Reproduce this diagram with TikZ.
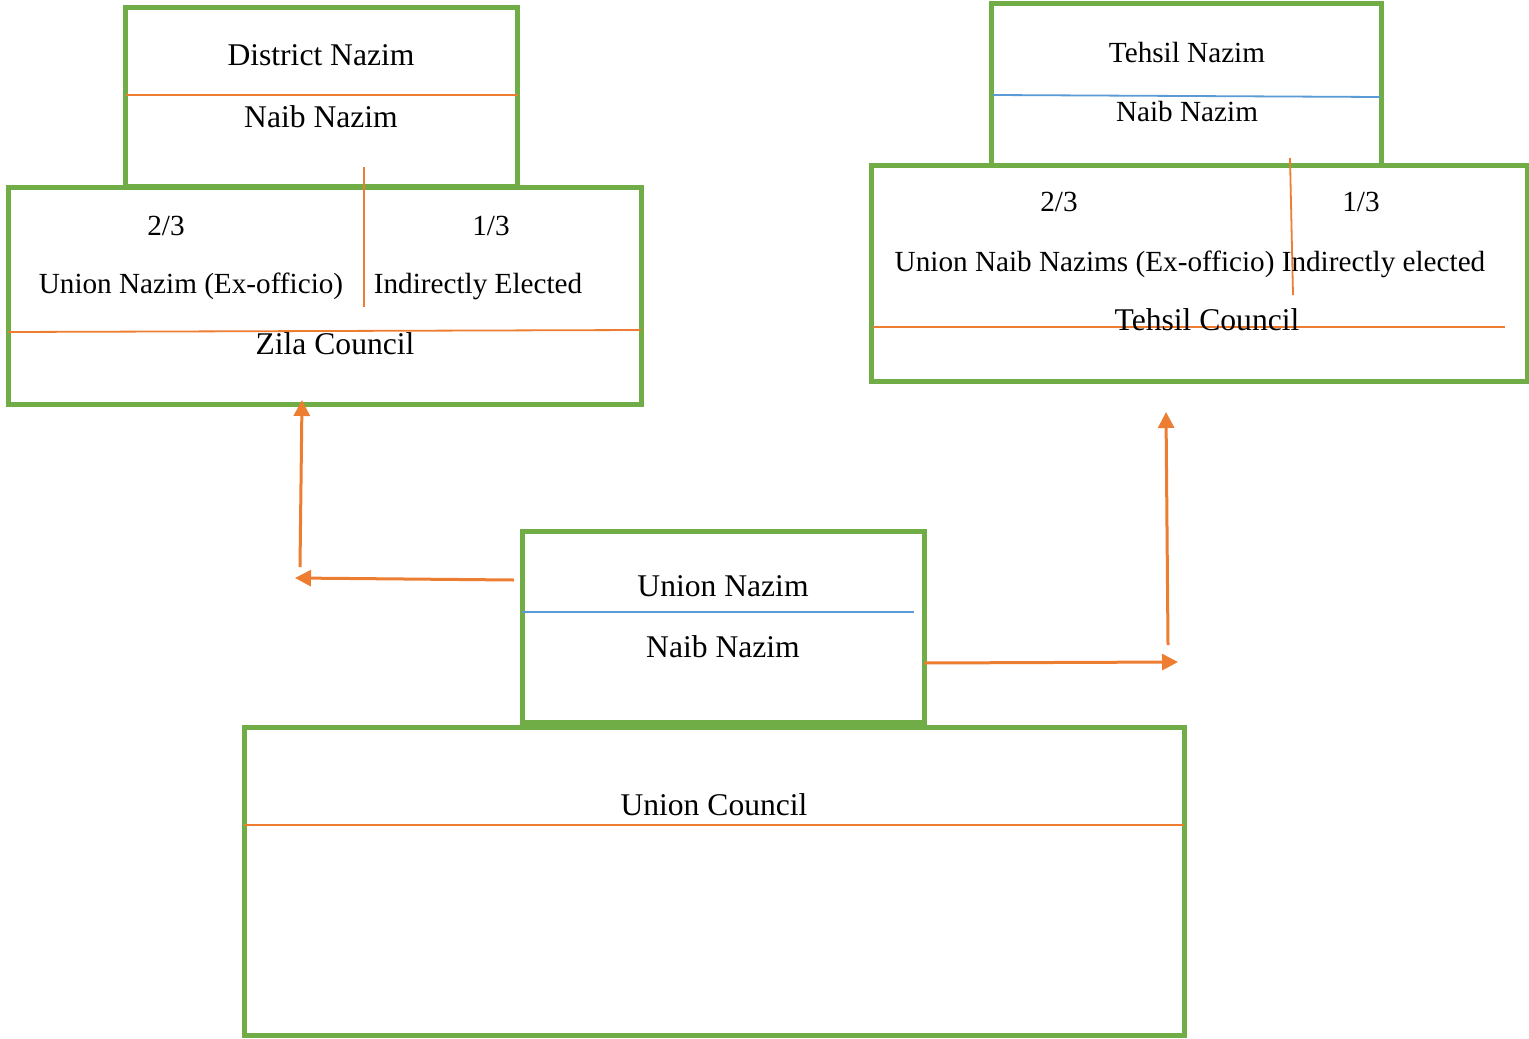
\documentclass[tikz,border=0pt]{standalone}
\usepackage{fontspec}
\setmainfont{Liberation Serif}
\usetikzlibrary{arrows.meta}
\definecolor{grn}{HTML}{70AD47}
\definecolor{org}{HTML}{ED7D31}
\definecolor{blu}{HTML}{5B9BD5}
\tikzset{
  box/.style={draw=grn, line width=2.5pt, fill=white, inner sep=0pt, outer sep=0pt},
  divo/.style={draw=org, line width=0.9pt},
  divb/.style={draw=blu, line width=0.9pt},
  big/.style={inner sep=0pt, anchor=base, font=\fontsize{15.8pt}{19pt}\selectfont},
  small/.style={inner sep=0pt, anchor=base, font=\fontsize{14.6pt}{18pt}\selectfont},
  conn/.style={draw=org, line width=1.5pt, -{Triangle[length=8pt,width=8pt]}},
  connline/.style={draw=org, line width=1.5pt}
}
\begin{document}
\begin{tikzpicture}[x=0.5pt,y=-0.5pt]
\useasboundingbox (0,0) rectangle (1529,1038);
% boxes
\node[box, minimum width=196pt, minimum height=89.5pt] (dist) at (321.5,97) {};
\node[box, minimum width=316.5pt, minimum height=108.5pt] (zila) at (324.5,295.5) {};
\node[box, minimum width=195pt, minimum height=80.5pt] (tehtop) at (1186,84.5) {};
\node[box, minimum width=328pt, minimum height=108pt] (teh) at (1199,273) {};
\node[box, minimum width=201pt, minimum height=95.5pt] (un) at (723,626.5) {};
\node[box, minimum width=470pt, minimum height=154pt] (uc) at (714,881) {};
% dividers
\draw[divo] (dist.west |- 0,95) -- (dist.east |- 0,95);
\draw[divo] (364,167) -- (364,307);
\draw[divo] (zila.west |- 0,332) -- (zila.east |- 0,330);
\draw[divb] (993,95) -- (1380,97);
\draw[divo] (1290,158) -- (1293,295);
\draw[divo] (873,327) -- (1505,327);
\draw[divb] (un.west |- 0,612) -- (914,612);
\draw[divo] (uc.west |- 0,825) -- (uc.east |- 0,825);
% texts
\node[big] (t1) at (321,66) {District Nazim};
\node[big] (t2) at (321,127) {Naib Nazim};
\node[small] (t3) at (166,235) {2/3};
\node[small] (t4) at (491,235) {1/3};
\node[small] (t5) at (191,293) {Union Nazim (Ex-officio)};
\node[small] (t6) at (478,293) {Indirectly Elected};
\node[big] (t7) at (335,354) {Zila Council};
\node[small] (t8) at (1187,63) {Tehsil Nazim};
\node[small] (t9) at (1187,121) {Naib Nazim};
\node[small] (t10) at (1059,211) {2/3};
\node[small] (t11) at (1361,211) {1/3};
\node[small] (t12) at (1190,271) {Union Naib Nazims (Ex-officio) Indirectly elected};
\node[big] (t13) at (1207,330) {Tehsil Council};
\node[big] (t14) at (723,596) {Union Nazim};
\node[big] (t15) at (723,657) {Naib Nazim};
\node[big] (t16) at (714,815) {Union Council};
% connectors
\coordinate (lh) at (295,578);
\coordinate (lv) at (300,567);
\coordinate (rh) at (1178,662);
\coordinate (rv) at (1168,645);
\coordinate (rvtop) at (1166,412);
\draw[conn] ([xshift=-4pt]un.west |- 0,580) -- (lh);
\draw[conn] (lv) -- ([yshift=2pt]zila.south -| 302,0);
\draw[conn] (un.east |- 0,663) -- (rh);
\draw[conn] (rv) -- (rvtop);
\end{tikzpicture}
\end{document}
